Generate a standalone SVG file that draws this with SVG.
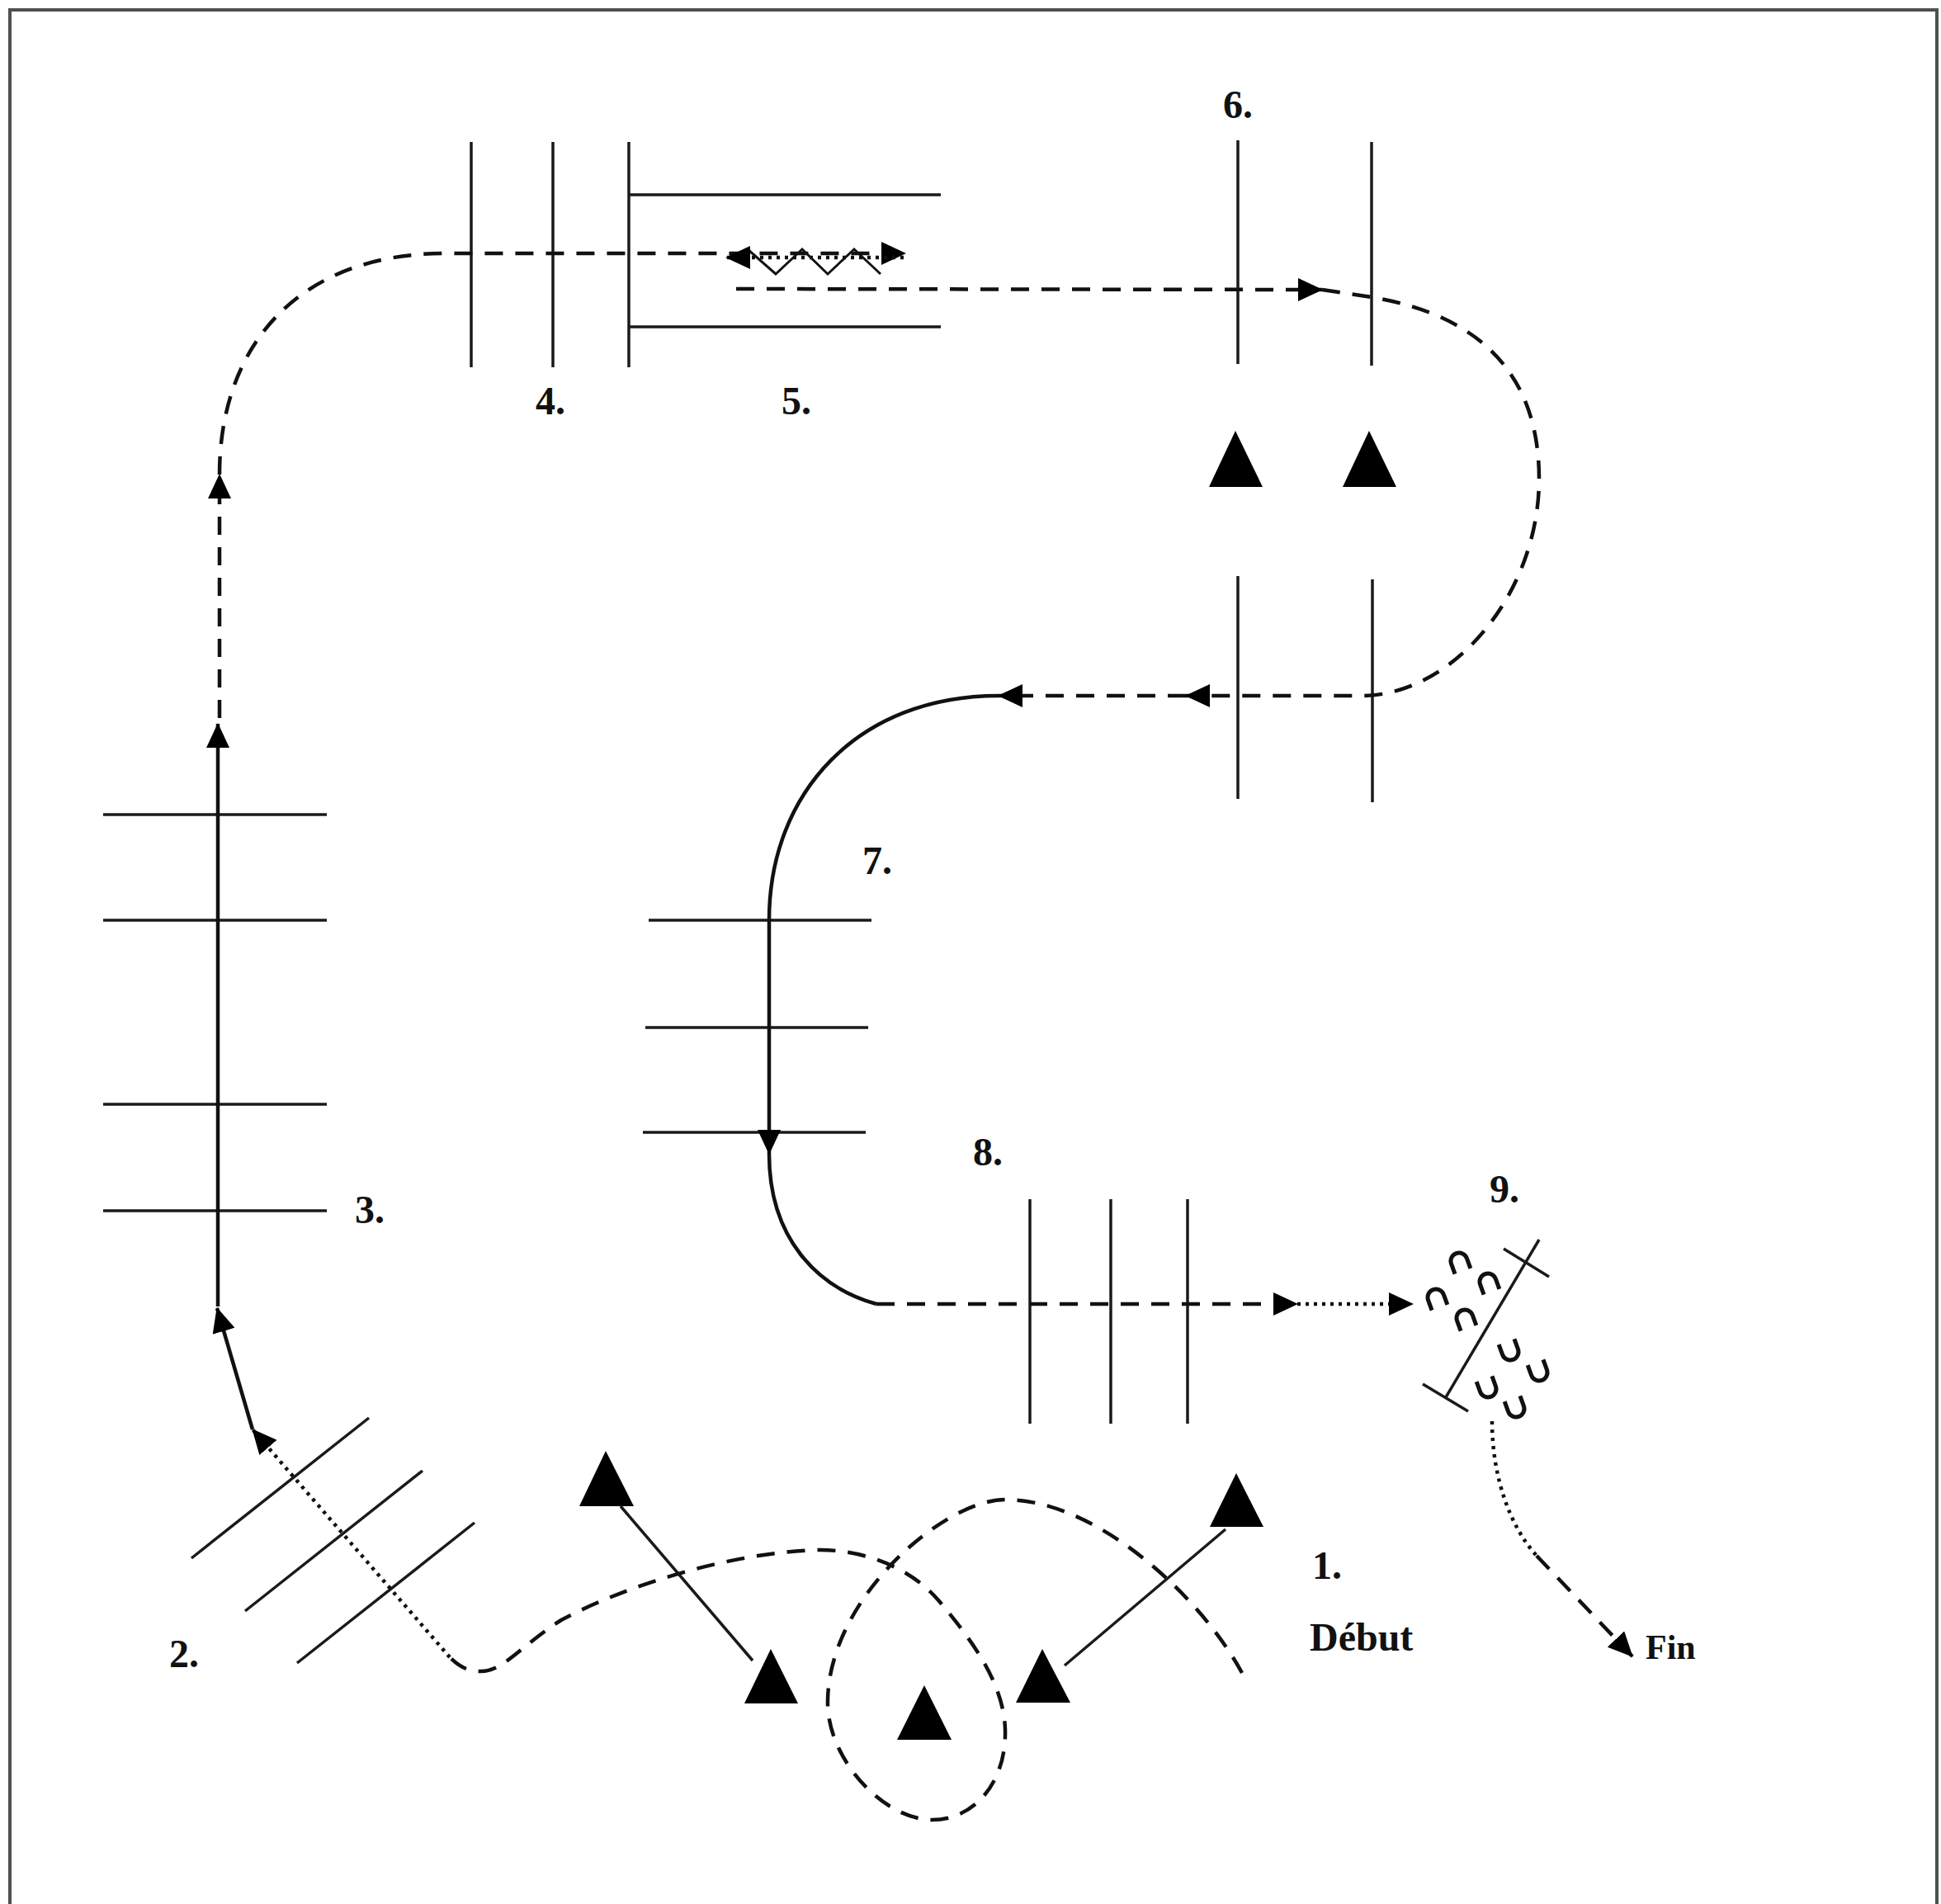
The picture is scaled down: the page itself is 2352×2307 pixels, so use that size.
<svg xmlns="http://www.w3.org/2000/svg" width="2352" height="2307" viewBox="0 0 2352 2307">
<defs>
<style>
.g{stroke:#1a1a1a;stroke-width:3.5;fill:none}
.s{stroke:#111;stroke-width:4.5;fill:none}
.d{stroke:#111;stroke-width:4.5;fill:none;stroke-dasharray:22 15}
.o{stroke:#111;stroke-width:4.5;fill:none;stroke-dasharray:4 6}
.z{stroke:#111;stroke-width:3;fill:none}
.t{fill:#000}
.lb{font-family:"Liberation Serif","Times New Roman",serif;font-weight:bold;font-size:48px;fill:#111}
.hs{stroke:#111;stroke-width:5;fill:none}
</style>
<marker id="ah" viewBox="0 0 30 28" refX="29" refY="14" markerWidth="30" markerHeight="28" markerUnits="userSpaceOnUse" orient="auto"><path d="M0,0 L30,14 L0,28 z" fill="#000"/></marker>
</defs>
<rect width="2352" height="2307" fill="#fff"/>
<path d="M12,2307 V12 H2347 V2307" fill="none" stroke="#505050" stroke-width="4"/>

<g id="node-3">
<line class="g" x1="125" y1="987" x2="396" y2="987"/>
<line class="g" x1="125" y1="1115" x2="396" y2="1115"/>
<line class="g" x1="125" y1="1338" x2="396" y2="1338"/>
<line class="g" x1="125" y1="1467" x2="396" y2="1467"/>
<text class="lb" x="430" y="1482">3.</text>
</g>

<g id="node-4">
<line class="g" x1="571" y1="172" x2="571" y2="445"/>
<line class="g" x1="670" y1="172" x2="670" y2="445"/>
<line class="g" x1="762" y1="172" x2="762" y2="445"/>
<text class="lb" x="649" y="502">4.</text>
</g>

<g id="node-5">
<line class="g" x1="762" y1="236" x2="1140" y2="236"/>
<line class="g" x1="762" y1="396" x2="1140" y2="396"/>
<polyline class="z" points="907,303 940,332 972,302 1003,332 1035,302 1067,332"/>
<text class="lb" x="947" y="502">5.</text>
</g>

<g id="node-6">
<line class="g" x1="1500" y1="170" x2="1500" y2="441"/>
<line class="g" x1="1662" y1="172" x2="1662" y2="443"/>
<polygon class="t" points="1497,522 1465,590 1530,590"/>
<polygon class="t" points="1659,522 1627,590 1692,590"/>
<line class="g" x1="1500" y1="698" x2="1500" y2="968"/>
<line class="g" x1="1663" y1="702" x2="1663" y2="972"/>
<text class="lb" x="1482" y="143">6.</text>
</g>

<g id="node-7">
<line class="g" x1="786" y1="1115" x2="1056" y2="1115"/>
<line class="g" x1="782" y1="1245" x2="1052" y2="1245"/>
<line class="g" x1="779" y1="1372" x2="1049" y2="1372"/>
<text class="lb" x="1045" y="1059">7.</text>
</g>

<g id="node-8">
<line class="g" x1="1248" y1="1453" x2="1248" y2="1725"/>
<line class="g" x1="1346" y1="1453" x2="1346" y2="1725"/>
<line class="g" x1="1439" y1="1453" x2="1439" y2="1725"/>
<text class="lb" x="1179" y="1412">8.</text>
</g>

<g id="node-9">
<line class="g" x1="1752" y1="1693" x2="1865" y2="1502"/>
<line class="g" x1="1822" y1="1513" x2="1877" y2="1547"/>
<line class="g" x1="1724" y1="1677" x2="1779" y2="1710"/>
<path class="hs" transform="translate(1768,1528) rotate(-20)" d="M-10,13 V0 A10,10 0 0 1 10,0 V13"/>
<path class="hs" transform="translate(1803,1553) rotate(-20)" d="M-10,13 V0 A10,10 0 0 1 10,0 V13"/>
<path class="hs" transform="translate(1740,1572) rotate(-20)" d="M-10,13 V0 A10,10 0 0 1 10,0 V13"/>
<path class="hs" transform="translate(1775,1597) rotate(-20)" d="M-10,13 V0 A10,10 0 0 1 10,0 V13"/>
<path class="hs" transform="translate(1830,1638) rotate(-20)" d="M-10,-13 V0 A10,10 0 0 0 10,0 V-13"/>
<path class="hs" transform="translate(1865,1663) rotate(-20)" d="M-10,-13 V0 A10,10 0 0 0 10,0 V-13"/>
<path class="hs" transform="translate(1803,1683) rotate(-20)" d="M-10,-13 V0 A10,10 0 0 0 10,0 V-13"/>
<path class="hs" transform="translate(1837,1707) rotate(-20)" d="M-10,-13 V0 A10,10 0 0 0 10,0 V-13"/>
<text class="lb" x="1805" y="1457">9.</text>
</g>

<g id="node-2">
<line class="g" x1="232" y1="1888" x2="447" y2="1718"/>
<line class="g" x1="297" y1="1952" x2="512" y2="1782"/>
<line class="g" x1="360" y1="2015" x2="575" y2="1845"/>
<text class="lb" x="205" y="2020">2.</text>
</g>

<g id="node-1">
<polygon class="t" points="734,1758 702,1825 768,1825"/>
<polygon class="t" points="934,1998 902,2064 967,2064"/>
<polygon class="t" points="1120,2042 1087,2108 1153,2108"/>
<polygon class="t" points="1263,1998 1231,2063 1297,2063"/>
<polygon class="t" points="1498,1785 1466,1850 1531,1850"/>
<line class="g" x1="752" y1="1825" x2="912" y2="2012"/>
<line class="g" x1="1290" y1="2018" x2="1485" y2="1853"/>
<text class="lb" x="1590" y="1913">1.</text>
<text class="lb" x="1587" y="2000">Début</text>
</g>

<g id="node-fin">
<text class="lb" x="1994" y="2010" style="font-size:42px">Fin</text>
</g>

<g id="connectors">
<path class="d" d="M1505,2027 C1455,1935 1330,1817 1218,1817 C1145,1817 1005,1935 1003,2060 C1001,2130 1070,2205 1130,2205 C1180,2205 1220,2160 1218,2095 C1216,2040 1180,1990 1138,1940 C1100,1895 1040,1878 994,1878 C890,1880 760,1920 680,1963 C630,1995 610,2025 583,2025 C565,2025 555,2018 545,2008"/>
<path class="o" d="M545,2008 L306,1732" marker-end="url(#ah)"/>
<path class="s" d="M306,1732 L263,1585" marker-end="url(#ah)"/>
<path class="s" d="M264,1583 L264,877" marker-end="url(#ah)"/>
<path class="d" d="M266,870 L266,575" marker-end="url(#ah)"/>
<path class="d" d="M266,575 C266,420 360,307 540,307 L1097,307" marker-end="url(#ah)"/>
<path class="o" d="M1095,312 L880,312" marker-end="url(#ah)"/>
<path class="d" d="M892,350 L1602,351" marker-end="url(#ah)"/>
<path class="d" d="M1602,351 L1662,360 C1800,383 1865,460 1865,580 C1865,720 1760,843 1650,843 L1437,843" marker-end="url(#ah)"/>
<path class="d" d="M1437,843 L1210,843" marker-end="url(#ah)"/>
<path class="s" d="M1210,843 C1040,843 932,960 932,1115 L932,1398" marker-end="url(#ah)"/>
<path class="s" d="M932,1398 C932,1500 990,1560 1062,1580"/>
<path class="d" d="M1062,1580 L1572,1580" marker-end="url(#ah)"/>
<path class="o" d="M1572,1580 L1712,1580" marker-end="url(#ah)"/>
<path class="o" d="M1808,1722 C1808,1790 1830,1850 1862,1885"/>
<path class="d" d="M1862,1885 L1978,2007" marker-end="url(#ah)"/>
</g>
</svg>
